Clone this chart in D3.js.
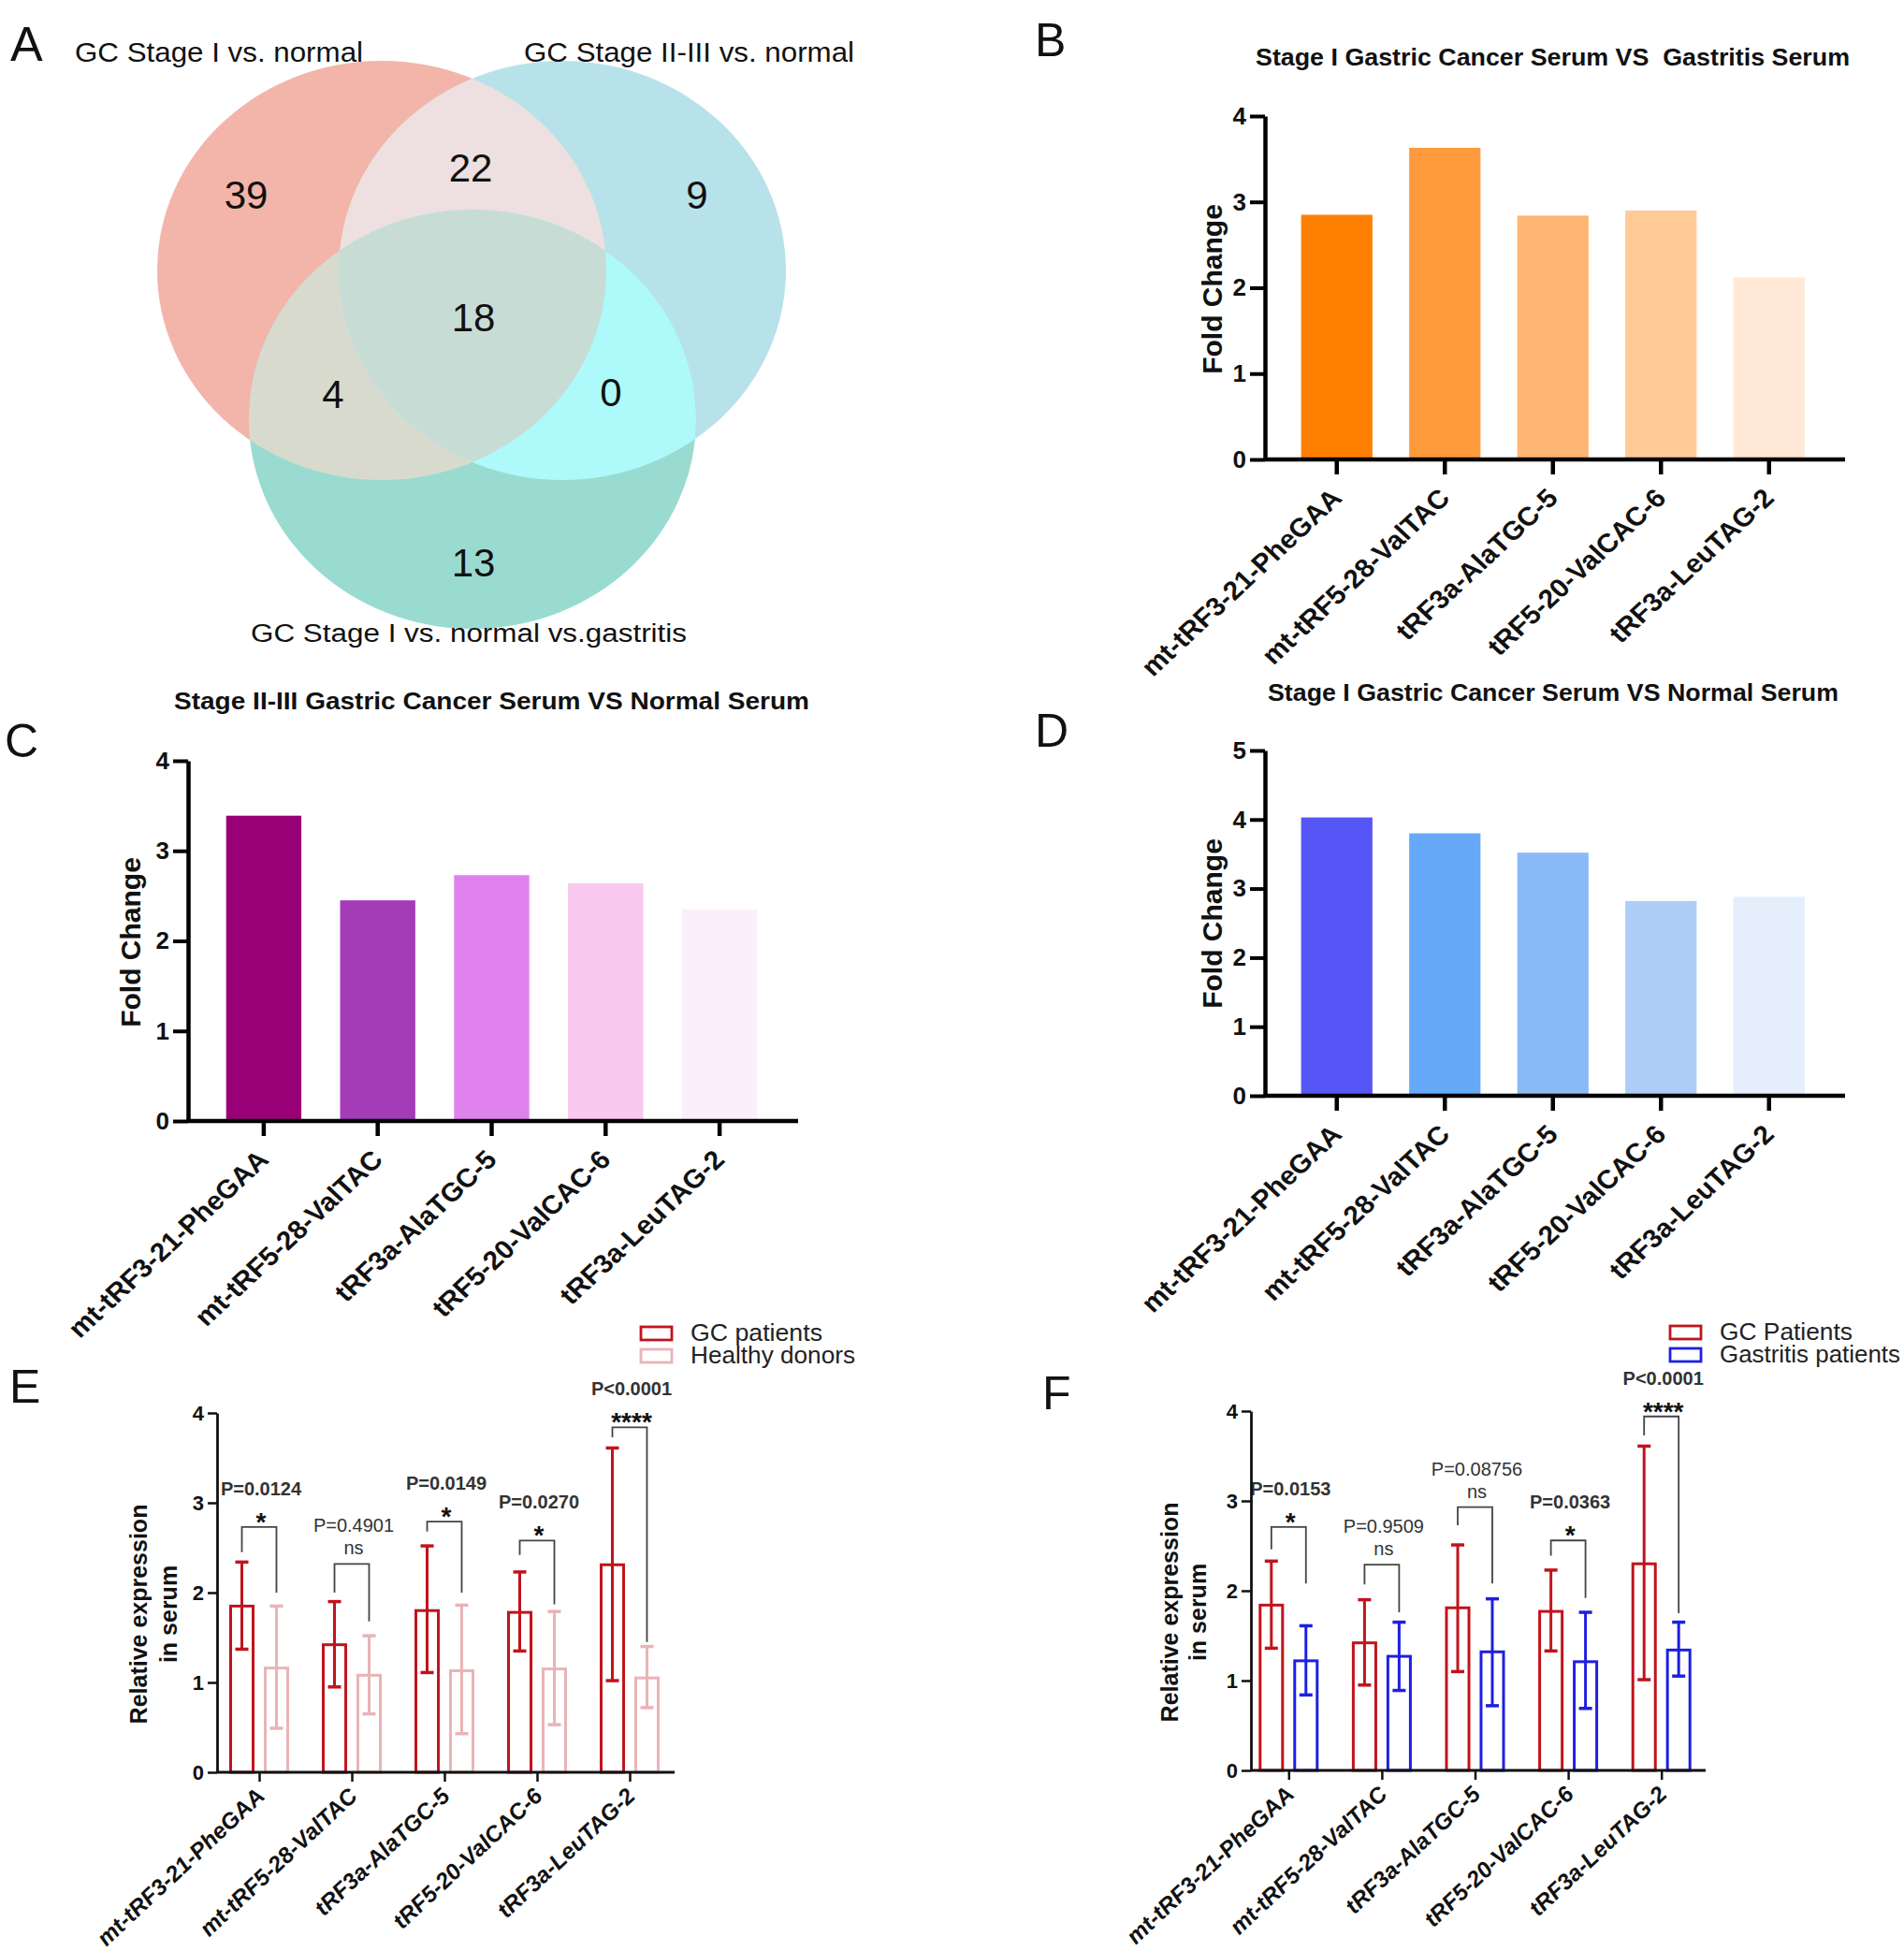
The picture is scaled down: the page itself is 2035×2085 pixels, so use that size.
<!DOCTYPE html>
<html><head><meta charset="utf-8">
<script src="https://cdn.jsdelivr.net/npm/d3@7"></script>
<style>html,body{margin:0;padding:0;background:#fff}svg{display:block}</style>
</head><body>
<script>
// ---------------- DATA ----------------
const categories = ["mt-tRF3-21-PheGAA","mt-tRF5-28-ValTAC","tRF3a-AlaTGC-5","tRF5-20-ValCAC-6","tRF3a-LeuTAG-2"];

// Venn (panel A)
const vennSetNames = ["GC Stage I vs. normal","GC Stage II-III vs. normal","GC Stage I vs. normal vs.gastritis"];
const vennRegionNames = ["onlyA","AB","onlyB","ABC","AC","BC","onlyC"];
const vennCounts = [39, 22, 9, 18, 4, 0, 13];

// Fold change panels
const titleB = "Stage I Gastric Cancer Serum VS  Gastritis Serum";
const foldB = [2.85, 3.63, 2.84, 2.90, 2.12];
const colorsB = ["#ff8000","#ff9a3c","#ffb672","#ffca96","#ffe9d6"];
const titleC = "Stage II-III Gastric Cancer Serum VS Normal Serum";
const foldC = [3.39, 2.45, 2.73, 2.64, 2.35];
const colorsC = ["#990077","#a43cb8","#df82ee","#f8c8ee","#fdeefb"];
const titleD = "Stage I Gastric Cancer Serum VS Normal Serum";
const foldD = [4.03, 3.80, 3.52, 2.82, 2.88];
const colorsD = ["#5656f6","#66a9f8","#8abaf6","#aecdf6","#e4effb"];
const foldTicksBC = [0,1,2,3,4];
const foldTicksD = [0,1,2,3,4,5];

// Panel E : GC patients vs healthy donors
const seriesE = ["GC patients","Healthy donors"];
const gcMeanE = [1.85, 1.42, 1.80, 1.78, 2.31];
const gcHiE   = [2.34, 1.90, 2.52, 2.23, 3.61];
const gcLoE   = [1.37, 0.95, 1.11, 1.35, 1.02];
const hdMeanE = [1.16, 1.08, 1.13, 1.15, 1.05];
const hdHiE   = [1.85, 1.52, 1.86, 1.79, 1.40];
const hdLoE   = [0.49, 0.65, 0.43, 0.53, 0.72];
const pTextE  = ["P=0.0124","P=0.4901","P=0.0149","P=0.0270","P<0.0001"];
const sigE    = ["*","ns","*","*","****"];
const brTopE  = [2.73, 2.32, 2.79, 2.58, 3.84];
const brLeftE = [2.45, 2.00, 2.68, 2.42, 3.73];
const brRightE= [2.00, 1.68, 2.00, 1.87, 1.45];

// Panel F : GC patients vs gastritis patients
const seriesF = ["GC Patients","Gastritis patients"];
const gcMeanF = [1.84, 1.42, 1.81, 1.77, 2.30];
const gcHiF   = [2.33, 1.90, 2.51, 2.23, 3.61];
const gcLoF   = [1.36, 0.95, 1.10, 1.33, 1.01];
const gaMeanF = [1.22, 1.27, 1.32, 1.21, 1.34];
const gaHiF   = [1.61, 1.65, 1.91, 1.76, 1.65];
const gaLoF   = [0.84, 0.89, 0.72, 0.69, 1.05];
const pTextF  = ["P=0.0153","P=0.9509","P=0.08756","P=0.0363","P<0.0001"];
const sigF    = ["*","ns","ns","*","****"];
const brTopF  = [2.71, 2.29, 2.93, 2.56, 3.94];
const brLeftF = [2.46, 2.07, 2.73, 2.39, 3.73];
const brRightF= [2.08, 1.76, 2.08, 1.92, 1.75];
const relTicks = [0,1,2,3,4];

// ---------------- DRAWING ----------------
const W = 2035, H = 2085;
const FONT = "'Liberation Sans', Arial, Helvetica, sans-serif";
const svg = d3.select("body").append("svg").attr("width", W).attr("height", H);
svg.append("rect").attr("width", W).attr("height", H).attr("fill", "#fff");

function txt(g, s, x, y, size, o = {}) {
  const t = g.append("text").attr("x", x).attr("y", y)
    .attr("font-family", FONT).attr("font-size", size)
    .attr("fill", o.fill || "#111").style("white-space", "pre").text(s);
  if (o.bold) t.attr("font-weight", "bold");
  if (o.italic) t.attr("font-style", "italic");
  if (o.anchor) t.attr("text-anchor", o.anchor);
  if (o.len) t.attr("textLength", o.len).attr("lengthAdjust", "spacingAndGlyphs");
  if (o.transform) t.attr("transform", o.transform);
  return t;
}

// panel letters
txt(svg, "A", 11, 65, 52);
txt(svg, "B", 1106, 60, 50);
txt(svg, "C", 5, 809, 50);
txt(svg, "D", 1106, 798, 50);
txt(svg, "E", 10, 1499, 50);
txt(svg, "F", 1114, 1506, 50);

// ---------- Panel A : Venn ----------
(function () {
  const g = svg.append("g");
  const ell = [
    { id: "vA", cx: 408, cy: 289, rx: 240, ry: 224, fill: "#f3b5aa" },
    { id: "vB", cx: 601, cy: 289, rx: 239, ry: 224, fill: "#b8e2ea" },
    { id: "vC", cx: 505, cy: 448, rx: 239, ry: 224, fill: "#9adbd1" }
  ];
  const defs = svg.append("defs");
  ell.forEach(e => {
    defs.append("clipPath").attr("id", "clip-" + e.id)
      .append("ellipse").attr("cx", e.cx).attr("cy", e.cy).attr("rx", e.rx).attr("ry", e.ry);
  });
  const draw = (parent, e, fill) => parent.append("ellipse")
    .attr("cx", e.cx).attr("cy", e.cy).attr("rx", e.rx).attr("ry", e.ry).attr("fill", fill);
  ell.forEach(e => draw(g, e, e.fill));
  draw(g.append("g").attr("clip-path", "url(#clip-vA)"), ell[1], "#eee0e0");
  draw(g.append("g").attr("clip-path", "url(#clip-vA)"), ell[2], "#d9dace");
  draw(g.append("g").attr("clip-path", "url(#clip-vB)"), ell[2], "#aef9f9");
  draw(g.append("g").attr("clip-path", "url(#clip-vA)").append("g").attr("clip-path", "url(#clip-vB)"), ell[2], "#c8dcd6");

  const regionPos = { onlyA: [263, 208], AB: [503, 179], onlyB: [745, 208], ABC: [506, 339], AC: [356, 421], BC: [653, 419], onlyC: [506, 601] };
  vennRegionNames.forEach((r, i) => {
    txt(g, String(vennCounts[i]), regionPos[r][0], regionPos[r][1] + 15, 42, { anchor: "middle" });
  });
  txt(g, vennSetNames[0], 80, 66, 30, { len: 308 });
  txt(g, vennSetNames[1], 560, 66, 30, { len: 353 });
  txt(g, vennSetNames[2], 268, 686, 27, { len: 466 });
})();

// ---------- Fold change bar panels ----------
function barPanel(cfg) {
  const g = svg.append("g");
  const x = d3.scaleBand().domain(categories).range(cfg.xr).paddingInner(0.34).paddingOuter(0.17);
  const y = d3.scaleLinear().domain([0, cfg.ymax]).range(cfg.yr);
  g.selectAll("rect.bar").data(cfg.values).join("rect").attr("class", "bar")
    .attr("x", (d, i) => x(categories[i])).attr("width", x.bandwidth())
    .attr("y", d => y(d)).attr("height", d => y(0) - y(d))
    .attr("fill", (d, i) => cfg.colors[i]);

  const ya = g.append("g").attr("transform", `translate(${cfg.ax},0)`)
    .call(d3.axisLeft(y).tickValues(cfg.ticks).tickSize(16).tickSizeOuter(0).tickPadding(4).tickFormat(d3.format("d")));
  ya.select(".domain").attr("stroke", "#000").attr("stroke-width", 4.5);
  ya.selectAll(".tick line").attr("stroke", "#000").attr("stroke-width", 4);
  ya.selectAll(".tick text").attr("font-family", FONT).attr("font-size", 26).attr("font-weight", "bold").attr("fill", "#111");

  g.append("line").attr("x1", cfg.ax).attr("x2", cfg.xEnd).attr("y1", y(0)).attr("y2", y(0))
    .attr("stroke", "#000").attr("stroke-width", 4.5);
  const xa = g.append("g").attr("transform", `translate(0,${y(0)})`)
    .call(d3.axisBottom(x).tickSize(16).tickSizeOuter(0).tickFormat(""));
  xa.select(".domain").remove();
  xa.selectAll(".tick line").attr("stroke", "#000").attr("stroke-width", 4.5);

  g.selectAll("text.xl").data(categories).join("text").attr("class", "xl")
    .attr("transform", d => `translate(${x(d) + x.bandwidth() / 2 + 7},${y(0) + 43}) scale(1.07,1) rotate(-45)`)
    .attr("text-anchor", "end").attr("font-family", FONT).attr("font-size", 28)
    .attr("font-weight", "bold").attr("fill", "#111").text(d => d);

  txt(g, "Fold Change", 0, 0, 30, { bold: true, anchor: "middle", transform: `translate(${cfg.ylx},${cfg.yly}) rotate(-90)` });
  txt(g, cfg.title, cfg.tx, cfg.ty, 25, { bold: true, len: cfg.tlen });
}

barPanel({ values: foldB, colors: colorsB, ymax: 4, ticks: foldTicksBC, xr: [1371, 1948.5], yr: [491, 124], ax: 1352, xEnd: 1972,
  ylx: 1306, yly: 309, title: titleB, tx: 1342, ty: 70, tlen: 635 });
barPanel({ values: foldC, colors: colorsC, ymax: 4, ticks: foldTicksBC, xr: [221, 830], yr: [1198, 813], ax: 201, xEnd: 853,
  ylx: 150, yly: 1007, title: titleC, tx: 186, ty: 758, tlen: 679 });
barPanel({ values: foldD, colors: colorsD, ymax: 5, ticks: foldTicksD, xr: [1371, 1948.5], yr: [1171, 802], ax: 1352, xEnd: 1972,
  ylx: 1306, yly: 987, title: titleD, tx: 1355, ty: 749, tlen: 610 });

// ---------- Grouped panels with error bars ----------
function groupPanel(cfg) {
  const g = svg.append("g");
  const x = d3.scaleBand().domain(categories).range(cfg.xr).padding(0);
  const sub = d3.scaleBand().domain([0, 1]).range([-31, 30]).paddingInner(0.35).paddingOuter(0);
  const y = d3.scaleLinear().domain([0, 4]).range(cfg.yr);
  const cx = (i) => x(categories[i]) + x.step() / 2;
  const series = [
    { mean: cfg.m1, hi: cfg.h1, lo: cfg.l1, color: cfg.c1 },
    { mean: cfg.m2, hi: cfg.h2, lo: cfg.l2, color: cfg.c2 }
  ];
  series.forEach((s, k) => {
    const bx = i => cx(i) + sub(k);
    const bc = i => bx(i) + sub.bandwidth() / 2;
    g.selectAll(null).data(s.mean).join("rect")
      .attr("x", (d, i) => bx(i)).attr("width", sub.bandwidth())
      .attr("y", d => y(d)).attr("height", d => y(0) - y(d))
      .attr("fill", "#fff").attr("stroke", s.color).attr("stroke-width", 3);
    g.selectAll(null).data(s.mean).join("line")
      .attr("x1", (d, i) => bc(i)).attr("x2", (d, i) => bc(i))
      .attr("y1", (d, i) => y(s.lo[i])).attr("y2", (d, i) => y(s.hi[i]))
      .attr("stroke", s.color).attr("stroke-width", 3);
    ["hi", "lo"].forEach(key => {
      g.selectAll(null).data(s[key]).join("line")
        .attr("x1", (d, i) => bc(i) - 7).attr("x2", (d, i) => bc(i) + 7)
        .attr("y1", d => y(d)).attr("y2", d => y(d))
        .attr("stroke", s.color).attr("stroke-width", 3.5);
    });
  });

  // brackets and annotations
  categories.forEach((c, i) => {
    const xl = cx(i) + sub(0) + sub.bandwidth() / 2;
    const xr = cx(i) + sub(1) + sub.bandwidth() / 2;
    const yt = y(cfg.brTop[i]);
    g.append("path").attr("d", `M${xl},${y(cfg.brL[i])}V${yt}H${xr}V${y(cfg.brR[i])}`)
      .attr("fill", "none").attr("stroke", "#444").attr("stroke-width", 1.8);
    const mid = (xl + xr) / 2 + 2;
    const ns = cfg.sig[i] === "ns";
    if (ns) txt(g, "ns", mid, yt - 10, 20, { anchor: "middle", fill: "#333" });
    else txt(g, cfg.sig[i], mid, yt + 4, 28, { anchor: "middle", bold: true, fill: "#111" });
    txt(g, cfg.p[i], mid, yt - 34, 20, { anchor: "middle", bold: !ns, fill: "#333" });
  });

  const ya = g.append("g").attr("transform", `translate(${cfg.ax},0)`)
    .call(d3.axisLeft(y).tickValues(relTicks).tickSize(10).tickSizeOuter(0).tickPadding(4).tickFormat(d3.format("d")));
  ya.select(".domain").attr("stroke", "#111").attr("stroke-width", 2.8);
  ya.selectAll(".tick line").attr("stroke", "#111").attr("stroke-width", 2.5);
  ya.selectAll(".tick text").attr("font-family", FONT).attr("font-size", 22).attr("font-weight", "bold").attr("fill", "#111");
  g.append("line").attr("x1", cfg.ax).attr("x2", cfg.xEnd).attr("y1", y(0)).attr("y2", y(0))
    .attr("stroke", "#111").attr("stroke-width", 2.8);
  const xa = g.append("g").attr("transform", `translate(${x.step() / 2 - x.bandwidth() / 2},${y(0)})`)
    .call(d3.axisBottom(x).tickSize(10).tickSizeOuter(0).tickFormat(""));
  xa.select(".domain").remove();
  xa.selectAll(".tick line").attr("stroke", "#111").attr("stroke-width", 2.5);

  g.selectAll("text.xl").data(categories).join("text").attr("class", "xl")
    .attr("transform", (d, i) => `translate(${cx(i) + 7},${y(0) + 27}) scale(1.07,1) rotate(-45)`)
    .attr("text-anchor", "end").attr("font-family", FONT).attr("font-size", 23.5)
    .attr("font-weight", "bold").attr("font-style", "italic").attr("fill", "#111").text(d => d);

  txt(g, "Relative expression", 0, 0, 25, { bold: true, anchor: "middle", transform: `translate(${cfg.ylx},${cfg.yly}) rotate(-90)` });
  txt(g, "in serum", 0, 0, 25, { bold: true, anchor: "middle", transform: `translate(${cfg.ylx + cfg.ylgap},${cfg.yly}) rotate(-90)` });

  // legend
  [cfg.c1, cfg.c2].forEach((col, k) => {
    g.append("rect").attr("x", cfg.lgx).attr("y", cfg.lgy + k * 24).attr("width", 33).attr("height", 14)
      .attr("fill", "#fff").attr("stroke", col).attr("stroke-width", 2.8);
    txt(g, cfg.names[k], cfg.lgx + 53, cfg.lgy + 15 + k * 24, 25, { fill: "#222", len: cfg.lgLen[k] });
  });
}

groupPanel({ m1: gcMeanE, h1: gcHiE, l1: gcLoE, m2: hdMeanE, h2: hdHiE, l2: hdLoE, c1: "#c0141c", c2: "#e9b4b7",
  p: pTextE, sig: sigE, brTop: brTopE, brL: brLeftE, brR: brRightE,
  xr: [228, 723], yr: [1894, 1510], ax: 232, xEnd: 721, ylx: 157, ylgap: 32, yly: 1725,
  names: seriesE, lgx: 685, lgy: 1418, lgLen: [141, 176] });
groupPanel({ m1: gcMeanF, h1: gcHiF, l1: gcLoF, m2: gaMeanF, h2: gaHiF, l2: gaLoF, c1: "#c0141c", c2: "#1f1fe0",
  p: pTextF, sig: sigF, brTop: brTopF, brL: brLeftF, brR: brRightF,
  xr: [1328, 1826], yr: [1892, 1508], ax: 1337, xEnd: 1823, ylx: 1259, ylgap: 30, yly: 1723,
  names: seriesF, lgx: 1785, lgy: 1417, lgLen: [142, 193] });
</script>
</body></html>
